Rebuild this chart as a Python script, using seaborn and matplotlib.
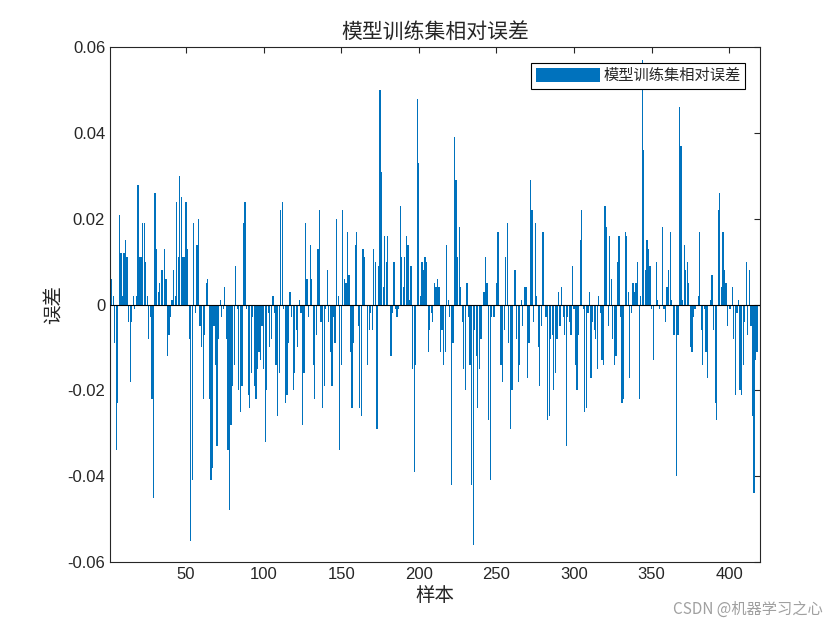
import numpy as np
import pandas as pd
import matplotlib
matplotlib.use("Agg")
import matplotlib.pyplot as plt
from matplotlib.patches import Patch
import seaborn as sns

# Relative error of each training sample
errors = [
    # 1-34
    -0.003, 0.006, 0.002, -0.009, -0.034, -0.023, 0.021, 0.012, 0.002, 0.012,
    0.015, 0.011, -0.004, -0.018, -0.004, 0.002, -0.001, 0.002, 0.028, 0.011,
    0.011, 0.019, 0.019, 0.010, 0.002, -0.008, -0.003, -0.022, -0.045, 0.026,
    0.013, 0.003, 0.005, 0.008,
    # 35-70
    0.008, 0.013, 0.006, -0.012, -0.007, -0.003, 0.001, 0.008, 0.002, 0.024,
    0.011, 0.030, 0.025, 0.011, 0.011, 0.024, 0.013, -0.008, -0.055, -0.041,
    0.019, -0.002, 0.014, 0.020, -0.005, -0.010, -0.022, -0.007, 0.005, 0.006,
    -0.022, -0.041, -0.038, -0.005, -0.014, -0.033,
    # 71-104
    -0.008, 0.001, -0.003, -0.001, 0.004, -0.008, -0.034, -0.048, -0.028, -0.019,
    -0.014, 0.009, -0.001, -0.020, -0.025, -0.019, 0.019, 0.024, -0.001, -0.021,
    -0.024, -0.016, -0.003, -0.019, -0.022, -0.015, -0.011, -0.013, -0.005, -0.015,
    -0.032, -0.020, -0.002, -0.010,
    # 105-139
    -0.008, 0.002, -0.002, -0.014, -0.026, -0.016, 0.022, 0.024, -0.001, -0.023,
    -0.021, -0.009, 0.003, -0.003, -0.020, -0.016, -0.006, -0.010, 0.001, -0.002,
    -0.028, -0.016, 0.019, 0.006, -0.003, 0.014, 0.006, -0.014, -0.022, -0.007,
    0.013, 0.022, -0.004, -0.024, -0.019,
    # 140-174
    -0.001, 0.008, -0.004, -0.011, -0.019, -0.003, -0.009, 0.020, 0.002, -0.034,
    -0.014, 0.022, 0.006, 0.005, 0.017, 0.007, -0.011, -0.024, -0.009, 0.014,
    0.017, -0.005, -0.024, -0.026, 0.013, 0.011, -0.000, -0.014, -0.006, -0.002,
    -0.006, 0.013, 0.010, -0.029, 0.009,
    # 175-209
    0.050, 0.031, 0.004, 0.016, 0.010, 0.016, 0.000, -0.012, -0.002, 0.010,
    -0.001, -0.003, -0.001, 0.023, 0.011, 0.004, 0.011, 0.016, 0.014, 0.001,
    0.009, -0.015, -0.039, -0.014, 0.048, 0.033, 0.002, 0.010, 0.008, 0.011,
    0.010, -0.011, -0.006, -0.002, -0.004,
    # 210-244
    0.005, 0.004, 0.006, 0.004, -0.011, -0.006, -0.014, -0.011, 0.014, 0.001,
    -0.003, -0.042, -0.009, 0.039, 0.029, 0.011, 0.018, 0.004, -0.004, -0.015,
    -0.020, 0.005, -0.003, -0.014, -0.042, -0.056, -0.006, -0.012, -0.024, -0.015,
    -0.008, 0.000, 0.003, 0.011, 0.005,
    # 245-280
    -0.027, -0.041, -0.003, -0.003, -0.003, 0.005, 0.017, 0.000, -0.014, -0.018,
    -0.006, 0.011, 0.019, -0.009, -0.029, -0.020, 0.000, 0.008, -0.008, -0.018,
    -0.014, 0.001, -0.005, 0.004, 0.004, -0.017, -0.009, 0.029, 0.022, -0.004,
    0.019, 0.002, -0.010, -0.019, -0.005, 0.017,
    # 281-314
    0.000, -0.003, -0.027, -0.026, -0.008, -0.007, -0.020, -0.016, -0.008, 0.003,
    -0.005, 0.004, -0.003, -0.007, -0.033, -0.003, -0.004, -0.007, 0.009, -0.001,
    -0.014, -0.020, -0.007, 0.015, 0.022, -0.001, -0.025, -0.024, -0.002, 0.003,
    -0.017, -0.004, -0.006, -0.008,
    # 315-349
    -0.015, 0.002, -0.002, -0.013, -0.014, 0.023, 0.018, -0.005, 0.016, 0.006,
    -0.008, -0.014, -0.012, 0.010, 0.016, -0.003, -0.023, -0.022, 0.017, 0.016,
    0.003, -0.017, -0.002, 0.005, 0.003, 0.005, 0.010, -0.022, 0.002, 0.057,
    0.036, 0.008, 0.015, 0.013, 0.009,
    # 350-384
    -0.001, -0.013, -0.000, 0.010, 0.001, -0.001, 0.000, 0.018, -0.001, -0.004,
    0.004, 0.008, 0.017, 0.001, -0.007, -0.007, -0.040, -0.007, 0.046, 0.037,
    0.001, 0.014, 0.008, 0.010, 0.005, -0.010, -0.011, -0.003, -0.001, 0.000,
    0.002, 0.017, -0.006, -0.014, -0.001,
    # 385-420
    -0.011, -0.017, 0.000, 0.001, 0.007, -0.006, -0.023, -0.027, 0.022, 0.026,
    0.004, 0.017, 0.008, 0.005, -0.005, -0.001, -0.001, 0.004, -0.008, -0.021,
    -0.002, 0.001, -0.020, -0.021, -0.014, -0.004, 0.010, -0.007, 0.008, -0.005,
    -0.026, -0.044, -0.013, -0.011, 0.000, 0.007,
]
samples = list(range(1, len(errors) + 1))

x_ticks = [50, 100, 150, 200, 250, 300, 350, 400]
y_ticks = [-0.06, -0.04, -0.02, 0, 0.02, 0.04, 0.06]
y_tick_labels = ["-0.06", "-0.04", "-0.02", "0", "0.02", "0.04", "0.06"]

TITLE = "模型训练集相对误差"
BAR_COLOR = "#0072BD"
CJK = ["Noto Sans CJK SC", "DejaVu Sans"]
NUM = ["Liberation Sans", "DejaVu Sans"]

df = pd.DataFrame({"sample": samples, "error": errors})

sns.set_style("white")
plt.rcParams["font.family"] = NUM
plt.rcParams["axes.unicode_minus"] = False

fig = plt.figure(figsize=(8.4, 6.3), dpi=100)
ax = fig.add_axes([0.131, 0.108, 0.774, 0.817])

sns.barplot(data=df, x="sample", y="error", native_scale=True, width=0.8,
            errorbar=None, color=BAR_COLOR, saturation=1,
            edgecolor="none", linewidth=0, ax=ax)

# baseline at zero, as in the MATLAB bar plot
ax.axhline(0, color="black", linewidth=0.8, zorder=3)

ax.set_xlim(samples[0], samples[-1])
ax.set_ylim(y_ticks[0], y_ticks[-1])
ax.set_xticks(x_ticks)
ax.set_xticklabels([str(t) for t in x_ticks])
ax.set_yticks(y_ticks)
ax.set_yticklabels(y_tick_labels)
ax.tick_params(direction="in", length=4, width=0.8, top=True, right=True,
               labelsize=12, colors="#262626")

for sp in ax.spines.values():
    sp.set_visible(True)
    sp.set_color("#262626")
    sp.set_linewidth(0.8)

ax.set_title(TITLE, family=CJK, fontsize=15, color="#262626", pad=6)
ax.set_xlabel("样本", family=CJK, fontsize=14, color="#262626", labelpad=2)
ax.set_ylabel("误差", family=CJK, fontsize=14, color="#262626", labelpad=2)

handle = Patch(facecolor=BAR_COLOR, edgecolor="none")
leg = ax.legend([handle], [TITLE], loc="upper right", prop={"family": CJK, "size": 11},
                handlelength=4.2, handleheight=1.1, handletextpad=0.2,
                borderpad=0.3, borderaxespad=1.0, fancybox=False, framealpha=1)
leg.get_frame().set_edgecolor("black")
leg.get_frame().set_linewidth(0.8)

fig.text(0.98, 0.02, "CSDN @机器学习之心", family=CJK, fontsize=11,
         color="#a0a0a0", ha="right", va="bottom")

fig.savefig("out.png", dpi=100, facecolor="white")
